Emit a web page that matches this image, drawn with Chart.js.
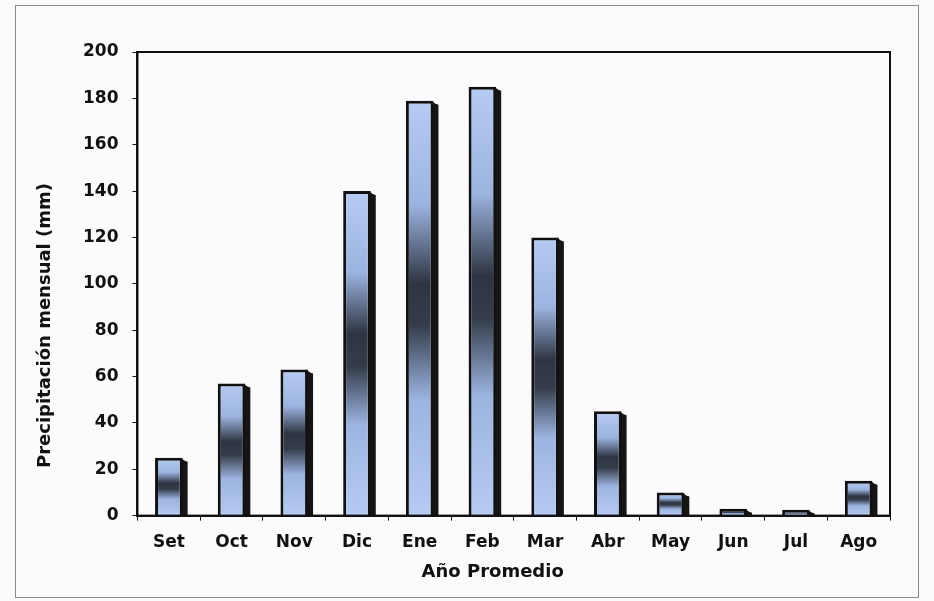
<!DOCTYPE html>
<html>
<head>
<meta charset="utf-8">
<script src="https://cdn.jsdelivr.net/npm/chart.js@4"></script>
<style>
  html, body { margin: 0; padding: 0; background: #fbfbfd; }
  #wrap { position: relative; width: 934px; height: 601px; }
  #frame { position: absolute; left: 15px; top: 5px; width: 902px; height: 591px;
           border: 1px solid #8a8a8a; pointer-events: none; }
</style>
</head>
<body>
<div id="wrap">
  <canvas id="myChart" width="934" height="601"></canvas>
  <div id="frame"></div>
</div>
<script>
// monthly rain, average year
const months = ['Set', 'Oct', 'Nov', 'Dic', 'Ene', 'Feb', 'Mar', 'Abr', 'May', 'Jun', 'Jul', 'Ago'];
const rainfall = [25, 57, 63, 140, 179, 185, 120, 45, 10, 3, 2.5, 15];
const yTicks = [0, 20, 40, 60, 80, 100, 120, 140, 160, 180, 200];
const xTitle = 'Año Promedio';
const yTitle = 'Precipitación mensual (mm)';

const tickFont = { family: 'DejaVu Sans', weight: 'bold', size: 17 };

// light blue at both ends, dark band in the middle of each bar
const barFill = function(context) {
  const chart = context.chart;
  const y = chart.scales.y;
  if (!y || !chart.chartArea) return '#9fb8e6';
  const v = context.raw;
  const top = y.getPixelForValue(v);
  const base = y.getPixelForValue(0);
  if (!isFinite(top) || !isFinite(base) || base - top < 1) return '#9fb8e6';
  const g = chart.ctx.createLinearGradient(0, top, 0, base);
  g.addColorStop(0, '#b6cbf2');
  g.addColorStop(0.25, '#9cb4e0');
  g.addColorStop(0.44, '#2e3542');
  g.addColorStop(0.54, '#343c4a');
  g.addColorStop(0.72, '#9cb4e0');
  g.addColorStop(1, '#b6cbf2');
  return g;
};

// dark block offset to the right of every bar, from the bar elements
const barShadow = {
  id: 'barShadow',
  beforeDatasetDraw(chart, args) {
    const ctx = chart.ctx;
    const meta = args.meta;
    ctx.save();
    ctx.fillStyle = '#151515';
    meta.data.forEach(function(bar) {
      const p = bar.getProps(['x', 'y', 'width', 'base'], true);
      const right = p.x + p.width / 2;
      const h = p.base - p.y;
      const drop = Math.min(3, h / 2);
      ctx.beginPath();
      ctx.moveTo(right - 2, p.y);
      ctx.lineTo(right + 2, p.y + drop);
      ctx.lineTo(right + 5, p.y + drop + 1);
      ctx.lineTo(right + 5, p.base);
      ctx.lineTo(right - 2, p.base);
      ctx.closePath();
      ctx.fill();
    });
    ctx.restore();
  }
};

const plotFrame = {
  id: 'plotFrame',
  afterDraw(chart) {
    const a = chart.chartArea;
    const ctx = chart.ctx;
    ctx.save();
    ctx.strokeStyle = '#111';
    ctx.lineWidth = 2;
    ctx.strokeRect(a.left, a.top, a.right - a.left, a.bottom - a.top);

    // axis titles, placed as in the scan
    ctx.fillStyle = '#111';
    ctx.font = 'bold 18px "DejaVu Sans"';
    ctx.textAlign = 'center';
    ctx.textBaseline = 'middle';
    ctx.fillText(xTitle, a.left + (a.right - a.left) * 0.472, 572);
    ctx.translate(45, a.top + (a.bottom - a.top) * 0.59);
    ctx.rotate(-Math.PI / 2);
    ctx.fillText(yTitle, 0, 0);
    ctx.restore();
  }
};

const ctx = document.getElementById('myChart');
new Chart(ctx, {
  type: 'bar',
  data: {
    labels: months,
    datasets: [{
      data: rainfall,
      backgroundColor: barFill,
      borderColor: '#111',
      borderWidth: 3,
      borderSkipped: 'bottom',
      barPercentage: 0.44,
      categoryPercentage: 1
    }]
  },
  options: {
    responsive: false,
    animation: false,
    layout: { padding: { left: 69, right: 44, top: 52, bottom: 36 } },
    plugins: {
      legend: { display: false },
      tooltip: { enabled: false }
    },
    scales: {
      x: {
        grid: { display: true, offset: true, drawOnChartArea: false, tickLength: 5, color: '#111' },
        border: { display: true, color: '#111', width: 2 },
        ticks: { color: '#111', font: tickFont, padding: 12 }
      },
      y: {
        min: 0,
        max: 200,
        afterBuildTicks: function(axis) {
          axis.ticks = yTicks.map(v => ({ value: v }));
        },
        grid: { display: true, drawOnChartArea: false, tickLength: 5, color: '#111' },
        border: { display: true, color: '#111', width: 2 },
        ticks: { color: '#111', font: tickFont, padding: 14 }
      }
    }
  },
  plugins: [barShadow, plotFrame]
});
</script>
</body>
</html>
